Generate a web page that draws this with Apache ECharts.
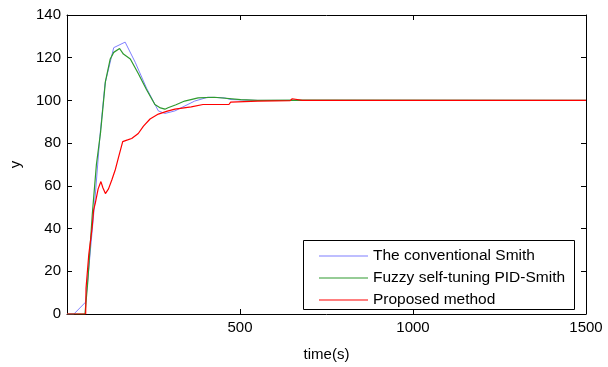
<!DOCTYPE html>
<html><head><meta charset="utf-8">
<script src="https://cdn.jsdelivr.net/npm/echarts@6/dist/echarts.min.js"></script>
<style>html,body{margin:0;padding:0;background:#fff}#c{width:608px;height:367px}</style>
</head><body><div id="c"></div>
<script>
const seriesNames = ['The conventional Smith', 'Fuzzy self-tuning PID-Smith', 'Proposed method'];
const xTicks = [0, 500, 1000, 1500];
const yTicks = [0, 20, 40, 60, 80, 100, 120, 140];

const smithT = [0, 20, 54, 65, 80, 95, 110, 135, 168, 197, 230, 264, 283, 312, 369, 407, 455, 474, 551, 1500];
const smithY = [0, 0, 5.6, 25, 52, 83, 108, 124.7, 127.3, 117.9, 105.7, 95.1, 93.9, 95.1, 99.7, 101.5, 101.2, 100.4, 100, 100];

const fuzzyT = [0, 52, 60, 73, 85, 97, 111, 125, 135, 152, 163, 183, 206, 230, 254, 270, 283, 292, 315, 340, 379, 426, 502, 551, 680, 1500];
const fuzzyY = [0, 0, 15, 46.5, 70, 85, 108.8, 119.4, 122.5, 124.3, 121.7, 119.4, 112.6, 105, 98.1, 96.5, 95.9, 96.6, 98, 99.7, 101.2, 101.5, 100.4, 100, 100.1, 100];

const propT = [0, 54, 55, 63, 72.7, 77, 82, 90, 98, 104, 111, 120, 130, 140, 150, 161, 175, 187, 206, 221, 240, 264, 290, 312, 359, 393, 468, 473, 551, 600, 645, 651, 656, 680, 1500];
const propY = [0, 0, 12, 28, 40.5, 48.8, 52, 58.6, 62, 59, 56.4, 58.6, 63, 67.8, 74, 80.7, 81.5, 82.2, 84.5, 88, 91.3, 93.6, 95, 95.9, 97, 98.1, 98.1, 99.2, 99.7, 99.8, 99.9, 100.8, 99.9, 100, 100];

const colors = ['#7f7fff', '#2e9a2e', '#ff0000'];
const zip = (a, b) => a.map((v, i) => [v, b[i]]);
const font = 'Liberation Sans, Arial, sans-serif';

const chart = echarts.init(document.getElementById('c'), null, {renderer: 'canvas'});
const axisCommon = {
  type: 'value',
  axisLine: {show: true, onZero: false, lineStyle: {color: '#000', width: 1}},
  axisTick: {show: true, inside: true, length: 5, lineStyle: {color: '#000'}},
  splitLine: {show: false}
};
chart.setOption({
  animation: false,
  color: colors,
  grid: {left: 63, right: 22, top: 15, bottom: 45, containLabel: false},
  xAxis: [
    Object.assign({}, axisCommon, {
      min: xTicks[0], max: xTicks[xTicks.length - 1], interval: 500, position: 'bottom',
      name: 'time(s)', nameLocation: 'middle', nameGap: 33,
      nameTextStyle: {color: '#000', fontSize: 15, fontFamily: font},
      axisLabel: {color: '#000', fontSize: 15, fontFamily: font, showMinLabel: false, margin: 6,
        formatter: v => String(v)}
    }),
    Object.assign({}, axisCommon, {
      min: xTicks[0], max: xTicks[xTicks.length - 1], interval: 500, position: 'top',
      axisLabel: {show: false}
    })
  ],
  yAxis: [
    Object.assign({}, axisCommon, {
      min: yTicks[0], max: yTicks[yTicks.length - 1], interval: 20, position: 'left',
      name: 'y', nameLocation: 'middle', nameGap: 44, nameRotate: 90,
      nameTextStyle: {color: '#000', fontSize: 15, fontFamily: font},
      axisLabel: {color: '#000', fontSize: 15, fontFamily: font, margin: 6, formatter: v => String(v)}
    }),
    Object.assign({}, axisCommon, {
      min: yTicks[0], max: yTicks[yTicks.length - 1], interval: 20, position: 'right',
      axisLabel: {show: false}
    })
  ],
  legend: {
    orient: 'vertical', left: 314, top: 243,
    icon: 'rect', itemWidth: 49, itemHeight: 1, itemGap: 6,
    textStyle: {color: '#000', fontSize: 15.5, fontFamily: font, lineHeight: 16},
    data: seriesNames, z: 10
  },
  graphic: [{
    type: 'rect', z: 5, silent: true,
    shape: {x: 303.5, y: 240.5, width: 271, height: 69},
    style: {fill: '#fff', stroke: '#000', lineWidth: 1}
  }],
  series: [
    {name: seriesNames[0], type: 'line', symbol: 'none', data: zip(smithT, smithY), lineStyle: {width: 1, color: colors[0]}},
    {name: seriesNames[1], type: 'line', symbol: 'none', data: zip(fuzzyT, fuzzyY), lineStyle: {width: 1.2, color: colors[1]}},
    {name: seriesNames[2], type: 'line', symbol: 'none', data: zip(propT, propY), lineStyle: {width: 1.2, color: colors[2]}}
  ]
});
</script></body></html>
